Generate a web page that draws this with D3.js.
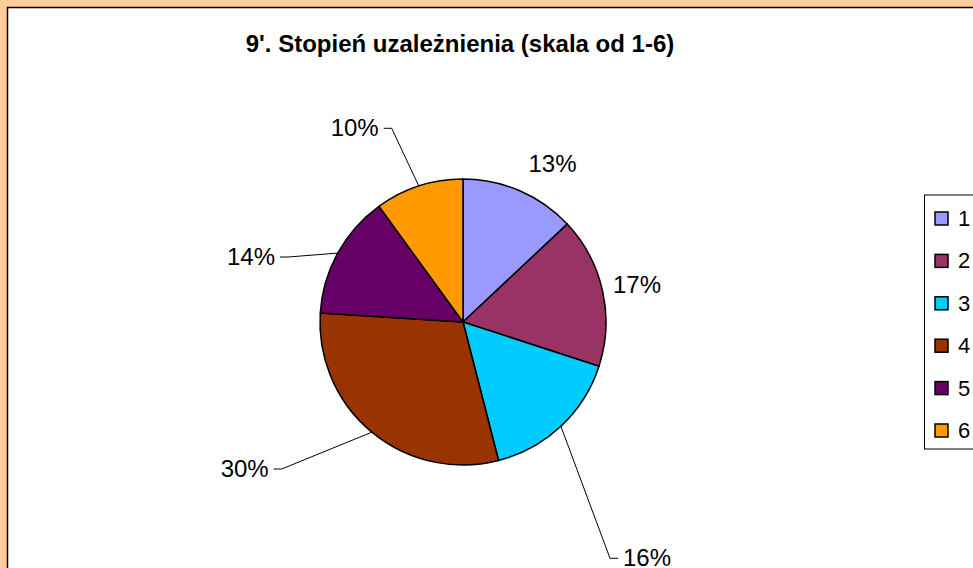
<!DOCTYPE html>
<html>
<head>
    <meta charset="utf-8">
    <style>
        body {
            margin: 0;
            background: #ffcc99;
            font-family: 'Liberation Sans', Arial, sans-serif;
        }

        svg {
            display: block;
        }

        .title {
            font-size: 24px;
            font-weight: bold;
        }

        .pct {
            font-size: 24px;
            fill: #000;
        }

        .legend text {
            font-size: 22px;
        }
    </style>
</head>

<body>
    <svg width="973" height="568"></svg>

    <script src="https://d3js.org/d3.v7.min.js"></script>
    <script>
        // data
        let categories = ["1", "2", "3", "4", "5", "6"];
        let shares = [13, 17, 16, 30, 14, 10];
        let colors = ["#9999ff", "#993366", "#00ccff", "#993300", "#660066", "#ff9900"];
        let titleText = "9'. Stopień uzależnienia (skala od 1-6)";

        let width = 973;
        let height = 568;
        let cx = 463, cy = 322, radius = 143;

        // where each label was dragged to, relative to the pie centre
        // leader: true -> elbow point of the leader line, false -> text centre
        let labelLayout = [
            { dx: 89.5, dy: -157.5, leader: false },
            { dx: 174, dy: -36.5, leader: false },
            { dx: 147, dy: 236.3, leader: true, side: "right" },
            { dx: -181.3, dy: 147, leader: true, side: "left" },
            { dx: -175, dy: -65, leader: true, side: "left" },
            { dx: -71.3, dy: -193.7, leader: true, side: "left" }
        ];

        let svg = d3.select("svg");

        // white plot area with black frame (runs off the right/bottom)
        svg.append("rect")
            .attr("x", 7.5)
            .attr("y", 7.5)
            .attr("width", width + 20)
            .attr("height", height + 20)
            .style("fill", "#fff")
            .style("stroke", "#000")
            .style("stroke-width", 1.5)

        svg.append("text")
            .attr("class", "title")
            .attr("x", 460)
            .attr("y", 52)
            .attr("text-anchor", "middle")
            .text(titleText)

        let data = categories.map((c, i) => ({ cat: c, value: shares[i], color: colors[i], layout: labelLayout[i] }));

        let pie = d3.pie()
            .value(d => d.value)
            .sort(null);

        let arc = d3.arc()
            .innerRadius(0)
            .outerRadius(radius);

        let arcs = pie(data);
        let total = d3.sum(shares);

        let g = svg.append("g")
            .attr("transform", `translate(${cx},${cy})`)

        g.selectAll(".slice")
            .data(arcs)
            .join("path")
            .attr("class", "slice")
            .attr("d", arc)
            .style("fill", d => d.data.color)
            .style("stroke", "#000")
            .style("stroke-width", 1.5)
            .style("stroke-linejoin", "round")

        // leader lines
        arcs.forEach(function (d) {
            let L = d.data.layout;
            if (!L.leader) return;
            let mid = (d.startAngle + d.endAngle) / 2;
            let ex = radius * Math.sin(mid);
            let ey = -radius * Math.cos(mid);
            let hx = L.side == "left" ? L.dx - 8 : L.dx + 8;
            g.append("polyline")
                .attr("points", [[ex, ey], [L.dx, L.dy], [hx, L.dy]].map(p => p.join(",")).join(" "))
                .style("fill", "none")
                .style("stroke", "#000")
                .style("stroke-width", 1)
        });

        g.selectAll(".pct")
            .data(arcs)
            .join("text")
            .attr("class", "pct")
            .attr("x", function (d) {
                let L = d.data.layout;
                if (!L.leader) return L.dx;
                return L.side == "left" ? L.dx - 13 : L.dx + 13;
            })
            .attr("y", d => d.data.layout.dy + 7.5)
            .attr("text-anchor", function (d) {
                let L = d.data.layout;
                if (!L.leader) return "middle";
                return L.side == "left" ? "end" : "start";
            })
            .text(d => d3.format(".0%")(d.data.value / total))

        // legend
        let legY = d3.scalePoint()
            .domain(categories)
            .range([218.5, 430.5])

        let legend = svg.append("g")
            .attr("class", "legend")

        legend.append("rect")
            .attr("x", 924.5)
            .attr("y", 195)
            .attr("width", 80)
            .attr("height", 254)
            .style("fill", "#fff")
            .style("stroke", "#000")
            .style("stroke-width", 1)

        let items = legend.selectAll(".item")
            .data(data)
            .join("g")
            .attr("class", "item")
            .attr("transform", d => `translate(0,${legY(d.cat)})`)

        items.append("rect")
            .attr("x", 935)
            .attr("y", -6.5)
            .attr("width", 13)
            .attr("height", 13)
            .style("fill", d => d.color)
            .style("stroke", "#000")
            .style("stroke-width", 1.5)

        items.append("text")
            .attr("x", 958)
            .attr("y", 7.5)
            .text(d => d.cat)
    </script>
</body>
</html>
